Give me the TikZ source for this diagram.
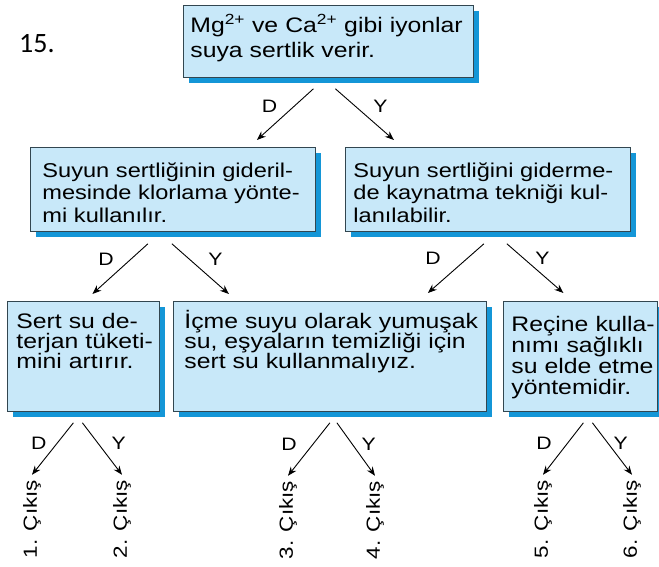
\documentclass[tikz,border=0pt]{standalone}
\usepackage{fontspec}
\setmainfont{Liberation Sans}[FakeStretch=1.18]
\newfontfamily\numfont{Carlito}
\usetikzlibrary{arrows.meta, shadows}
\definecolor{boxfill}{RGB}{200,232,249}
\definecolor{boxline}{RGB}{50,70,80}
\definecolor{boxshadow}{RGB}{20,150,215}
\hyphenpenalty=10000
\exhyphenpenalty=10000

\begin{document}
\begin{tikzpicture}[x=1pt, y=-1pt]

\tikzset{card/.style = {draw=boxline, fill=boxfill, line width=0.8pt, anchor=north west, align=left, inner ysep=0pt,
  drop shadow={shadow xshift=6pt, shadow yshift=-6pt, fill=boxshadow, opacity=1}}}
\tikzset{edge/.style = {->, > = {Stealth[length=9pt, width=7pt, inset=3pt]}, line width=0.9pt}}
\tikzset{lbl/.style = {font=\fontsize{18}{18}\selectfont, inner sep=0pt}}
\tikzset{exit/.style = {rotate=90, font=\fontsize{19}{19}\selectfont, inner sep=0pt}}
\tikzset{big/.style = {font=\fontsize{21}{25}\selectfont}}
\tikzset{mid/.style = {font=\fontsize{20}{22.5}\selectfont, text height=30pt, text depth=54pt}}
\tikzset{low/.style = {font=\fontsize{21}{20}\selectfont, text height=27pt, text depth=83pt}}

\useasboundingbox (0,0) rectangle (659,567);

\node[font=\numfont\fontsize{28}{28}\selectfont, anchor=base west, inner sep=0pt] (num) at (19,53) {15.};
%boxes
\node[card, big, text width=276pt, inner xsep=7pt, text height=27pt, text depth=45pt] (q0) at (183,5)
  {Mg\textsuperscript{2+}~ve~Ca\textsuperscript{2+}~gibi~iyonlar\\suya~sertlik~verir.};
\node[card, mid, text width=261pt, inner xsep=12pt] (q1) at (30,147)
  {Suyun~sertliğinin~gideril-\\mesinde~klorlama~yönte-\\mi~kullanılır.};
\node[card, mid, text width=269pt, inner xsep=8pt] (q2) at (345,147)
  {Suyun~sertliğini~giderme-\\de~kaynatma~tekniği~kul-\\lanılabilir.};
\node[card, low, text width=134pt, inner xsep=9pt] (r1) at (7,301)
  {Sert~su~de-\\terjan~tüketi-\\mini~artırır.};
\node[card, low, text width=291pt, inner xsep=11pt] (r2) at (173,301)
  {İçme~suyu~olarak~yumuşak\\su,~eşyaların~temizliği~için\\sert~su~kullanmalıyız.};
\node[card, low, font=\fontsize{21}{21}\selectfont, text width=138pt, inner xsep=8pt, text height=30pt, text depth=80pt] (r3) at (503,301)
  {Reçine~kulla-\\nımı~sağlıklı\\su~elde~etme\\yöntemidir.};
%exits
\node[exit] (c1) at (32,519) {1. Çıkış};
\node[exit] (c2) at (122,519) {2. Çıkış};
\node[exit] (c3) at (288,520) {3. Çıkış};
\node[exit] (c4) at (375,520) {4. Çıkış};
\node[exit] (c5) at (543,519) {5. Çıkış};
\node[exit] (c6) at (632,519) {6. Çıkış};
%edges
\draw[edge] ([shift={(-15,11)}]q0.south) -- ([shift={(84,-7)}]q1.north) node[lbl, pos=.35, left=16pt] {D};
\draw[edge] ([shift={(7,11)}]q0.south) -- ([shift={(-94,-7)}]q2.north) node[lbl, pos=.35, right=17pt] {Y};
\draw[edge] ([shift={(-25,12)}]q1.south) -- ([shift={(9,-7)}]r1.north) node[lbl, pos=.3, left=17pt] {D};
\draw[edge] ([shift={(-1,12)}]q1.south) -- ([shift={(-101,-7)}]r2.north) node[lbl, pos=.3, right=19pt] {Y};
\draw[edge] ([shift={(-4,12)}]q2.south) -- ([shift={(98,-8)}]r2.north) node[lbl, pos=.3, left=26pt] {D};
\draw[edge] ([shift={(19,12)}]q2.south) -- ([shift={(-17,-8)}]r3.north) node[lbl, pos=.3, right=11pt] {Y};
\draw[edge] ([shift={(-10,11)}]r1.south) -- ([shift={(0,-5)}]c1.east) node[lbl, pos=.4, left=10pt] {D};
\draw[edge] ([shift={(-1,11)}]r1.south) -- ([shift={(0,-5)}]c2.east) node[lbl, pos=.4, right=13pt] {Y};
\draw[edge] ([shift={(0,11)}]r2.south) -- ([shift={(0,-5)}]c3.east) node[lbl, pos=.4, left=16pt] {D};
\draw[edge] ([shift={(7,11)}]r2.south) -- ([shift={(0,-5)}]c4.east) node[lbl, pos=.4, right=9pt] {Y};
\draw[edge] ([shift={(3,11)}]r3.south) -- ([shift={(0,-5)}]c5.east) node[lbl, pos=.4, left=15pt] {D};
\draw[edge] ([shift={(12,11)}]r3.south) -- ([shift={(0,-5)}]c6.east) node[lbl, pos=.4, right=5pt] {Y};

\end{tikzpicture}
\end{document}
